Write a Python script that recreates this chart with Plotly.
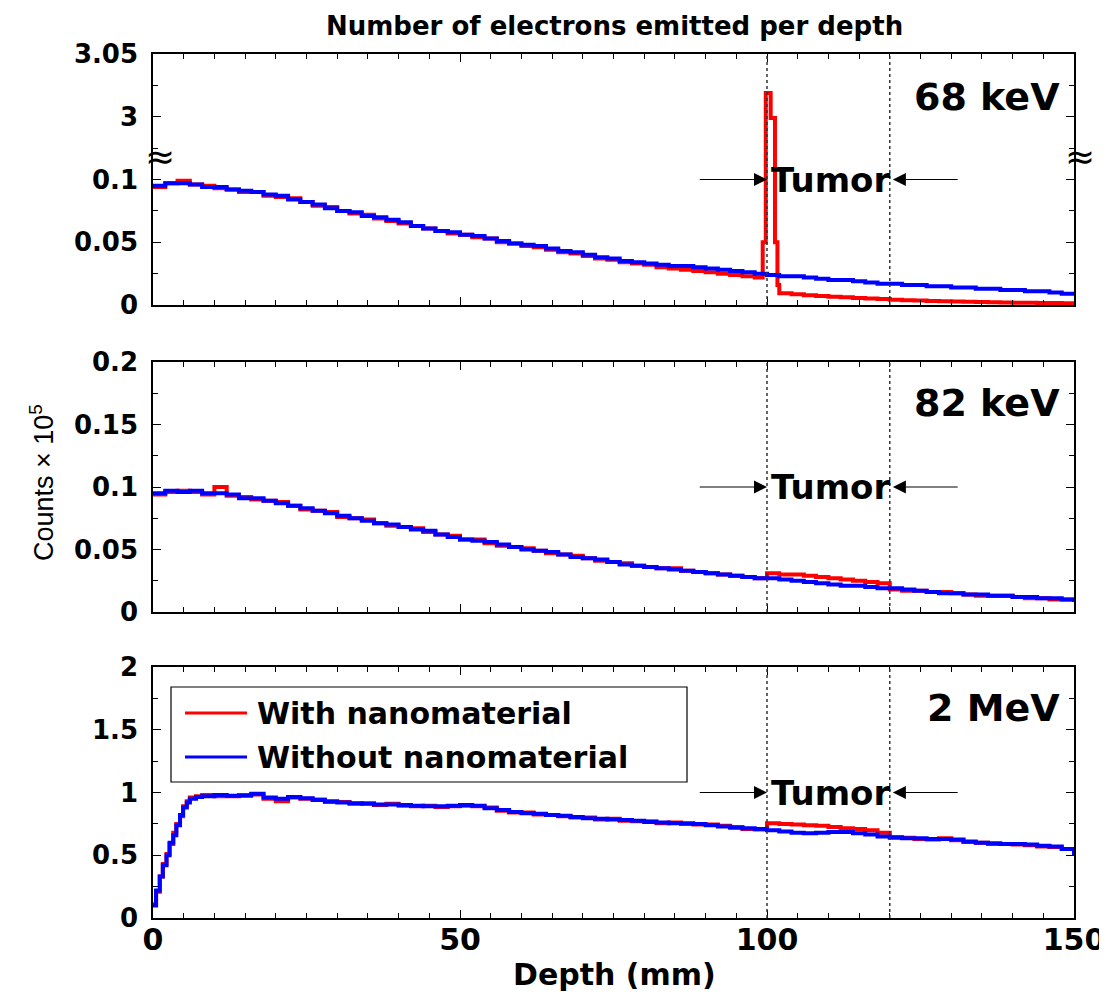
"""Electrons emitted per depth: three stacked step plots (68 keV, 82 keV, 2 MeV)."""

import plotly.graph_objects as go

# the page puts the figure 8 px in from the top-left corner of the window
PAGE_OFFSET = 8
W, H = 1107 - PAGE_OFFSET, 995 - PAGE_OFFSET
FONT = "DejaVu Sans"
RED = "#FF0000"
BLUE = "#0000FF"

# depth bins (mm)
depth = list(range(0, 152, 2))

# 68 keV, counts x 1e5
blue_68 = [
    0.095, 0.097, 0.097, 0.096, 0.094, 0.094, 0.092, 0.091, 0.090, 0.088,
    0.087, 0.084, 0.082, 0.080, 0.077, 0.075, 0.074, 0.071, 0.070, 0.068,
    0.066, 0.063, 0.061, 0.059, 0.058, 0.056, 0.055, 0.053, 0.051, 0.049,
    0.048, 0.047, 0.045, 0.043, 0.042, 0.040, 0.038, 0.037, 0.035, 0.034,
    0.033, 0.032, 0.031, 0.031, 0.030, 0.029, 0.028, 0.027, 0.026, 0.025,
    0.024, 0.023, 0.023, 0.022, 0.021, 0.020, 0.020, 0.019, 0.018, 0.017,
    0.017, 0.016, 0.016, 0.015, 0.015, 0.014, 0.014, 0.013, 0.013, 0.012,
    0.012, 0.011, 0.011, 0.010, 0.009, 0.008,
]
red_68 = [
    0.094, 0.097, 0.099, 0.096, 0.095, 0.093, 0.092, 0.090, 0.090, 0.087,
    0.086, 0.085, 0.082, 0.079, 0.078, 0.075, 0.073, 0.072, 0.069, 0.067,
    0.065, 0.063, 0.061, 0.059, 0.057, 0.056, 0.054, 0.053, 0.050, 0.049,
    0.047, 0.046, 0.044, 0.042, 0.041, 0.039, 0.037, 0.036, 0.034, 0.033,
    0.032, 0.030, 0.029, 0.028, 0.027, 0.026, 0.025, 0.024, 0.023, 0.022,
    0.022, 0.0093, 0.0085, 0.0078, 0.0072, 0.0066, 0.0061, 0.0056, 0.0051, 0.0047,
    0.0042, 0.0038, 0.0035, 0.0032, 0.0029, 0.0027, 0.0025, 0.0023, 0.0021, 0.0020,
    0.0018, 0.0017, 0.0016, 0.0015, 0.0014, 0.0013,
]
# fine bins of the nanomaterial peak at the tumour entrance
spike_depth = [99.3, 99.8, 100.6, 101.3, 101.7]
spike_counts = [0.05, 3.019, 2.999, 0.05, 0.016]

# 82 keV
blue_82 = [
    0.095, 0.097, 0.096, 0.097, 0.095, 0.095, 0.094, 0.091, 0.091, 0.089,
    0.087, 0.085, 0.083, 0.081, 0.079, 0.077, 0.075, 0.073, 0.071, 0.070,
    0.068, 0.066, 0.065, 0.062, 0.060, 0.058, 0.057, 0.056, 0.054, 0.052,
    0.050, 0.049, 0.048, 0.046, 0.044, 0.043, 0.042, 0.040, 0.038, 0.037,
    0.036, 0.035, 0.034, 0.033, 0.032, 0.031, 0.030, 0.029, 0.028, 0.027,
    0.027, 0.026, 0.025, 0.024, 0.023, 0.022, 0.021, 0.021, 0.020, 0.019,
    0.019, 0.018, 0.017, 0.016, 0.015, 0.015, 0.014, 0.014, 0.013, 0.013,
    0.012, 0.012, 0.011, 0.011, 0.010, 0.008,
]
red_82 = [
    0.094, 0.096, 0.097, 0.096, 0.094, 0.100, 0.093, 0.092, 0.090, 0.089,
    0.088, 0.085, 0.082, 0.081, 0.080, 0.076, 0.075, 0.074, 0.071, 0.069,
    0.068, 0.067, 0.064, 0.062, 0.061, 0.058, 0.058, 0.055, 0.053, 0.052,
    0.051, 0.049, 0.047, 0.046, 0.045, 0.043, 0.041, 0.040, 0.039, 0.037,
    0.036, 0.035, 0.035, 0.033, 0.032, 0.031, 0.030, 0.029, 0.028, 0.027,
    0.031, 0.030, 0.030, 0.029, 0.028, 0.027, 0.026, 0.025, 0.024, 0.023,
    0.018, 0.017, 0.017, 0.016, 0.016, 0.015, 0.014, 0.013, 0.013, 0.013,
    0.012, 0.011, 0.011, 0.010, 0.010, 0.008,
]

# 2 MeV: finer bins over the build-up region, then the 2 mm grid
depth_2mev = [0, 0.5, 1.1, 1.6, 2.2, 2.7, 3.3, 3.8, 4.4, 4.9, 5.5, 6.0, 7.0] + list(range(8, 152, 2))
blue_2m = [
    0.10, 0.22, 0.33, 0.42, 0.50, 0.60, 0.66, 0.74, 0.82, 0.88, 0.92, 0.95, 0.965,
    0.97, 0.98, 0.975, 0.975, 0.99, 0.96,
    0.95, 0.965, 0.955, 0.94, 0.93, 0.92, 0.915, 0.91, 0.905, 0.905,
    0.90, 0.895, 0.89, 0.89, 0.895, 0.90, 0.895, 0.875, 0.86, 0.845,
    0.835, 0.83, 0.82, 0.815, 0.805, 0.795, 0.79, 0.785, 0.78, 0.775,
    0.765, 0.76, 0.755, 0.755, 0.75, 0.74, 0.73, 0.72, 0.715, 0.71,
    0.70, 0.69, 0.68, 0.675, 0.68, 0.685, 0.685, 0.675, 0.665, 0.65,
    0.64, 0.635, 0.635, 0.63, 0.63, 0.625, 0.61, 0.60, 0.595, 0.59,
    0.59, 0.585, 0.575, 0.57, 0.55, 0.50,
]
red_2m = [
    0.11, 0.21, 0.33, 0.43, 0.51, 0.59, 0.68, 0.75, 0.81, 0.89, 0.93, 0.96, 0.97,
    0.98, 0.97, 0.97, 0.98, 0.985, 0.95,
    0.93, 0.96, 0.95, 0.945, 0.925, 0.925, 0.91, 0.915, 0.90, 0.91,
    0.895, 0.89, 0.895, 0.885, 0.89, 0.895, 0.89, 0.88, 0.855, 0.84,
    0.84, 0.825, 0.82, 0.81, 0.80, 0.80, 0.785, 0.79, 0.775, 0.77,
    0.77, 0.755, 0.76, 0.75, 0.745, 0.745, 0.735, 0.725, 0.71, 0.705,
    0.755, 0.75, 0.745, 0.74, 0.735, 0.725, 0.715, 0.71, 0.70, 0.68,
    0.645, 0.64, 0.63, 0.625, 0.635, 0.62, 0.605, 0.60, 0.59, 0.59,
    0.585, 0.58, 0.57, 0.565, 0.55, 0.50,
]

tumor_start, tumor_end = 100, 120
panel_labels = ["68 keV", "82 keV", "2 MeV"]

# top panel has a broken axis: values above the break are shifted down by 2.85
BREAK_SHIFT = 2.85
top_tickvals = [0, 0.05, 0.1, 0.15, 0.2]
top_ticktext = ["0", "0.05", "0.1", "3", "3.05"]


def _broken(v):
    return v if v <= 0.1 else v - BREAK_SHIFT


def px(x):
    """Window pixel column -> paper fraction."""
    return (x - PAGE_OFFSET) / W


def py(y):
    """Window pixel row -> paper fraction."""
    return 1 - (y - PAGE_OFFSET) / H


x_dom = [px(153), px(1074)]
y_doms = [[py(305), py(54)], [py(612), py(362)], [py(918), py(667)]]

fig = go.Figure()

red68_x = [d for d in depth if d < 100] + spike_depth + [d for d in depth if d > 100]
red68_y = (
    [v for d, v in zip(depth, red_68) if d < 100]
    + spike_counts
    + [v for d, v in zip(depth, red_68) if d > 100]
)

series = [
    (red68_x, [_broken(v) for v in red68_y], depth, blue_68),
    (depth, red_82, depth, blue_82),
    (depth_2mev, red_2m, depth_2mev, blue_2m),
]

for i, (rx, ry, bx, by) in enumerate(series, start=1):
    xa = "x" if i == 1 else f"x{i}"
    ya = "y" if i == 1 else f"y{i}"
    fig.add_trace(go.Scatter(
        x=rx, y=ry, mode="lines", line={"color": RED, "width": 4, "shape": "hv"},
        xaxis=xa, yaxis=ya, showlegend=False,
    ))
    fig.add_trace(go.Scatter(
        x=bx, y=by, mode="lines", line={"color": BLUE, "width": 4, "shape": "hv"},
        xaxis=xa, yaxis=ya, showlegend=False,
    ))

axis_common = {
    "showline": True, "linecolor": "black", "linewidth": 1.5, "mirror": "ticks",
    "ticks": "inside", "ticklen": 8, "tickwidth": 1.2, "tickcolor": "black",
    "showgrid": False, "zeroline": False, "automargin": False,
}
minor_common = {"ticks": "inside", "ticklen": 5, "tickwidth": 1, "tickcolor": "black",
                "showgrid": False}
x_tick_font = {"family": FONT, "size": 30, "color": "black", "weight": "bold"}
y_tick_font = {"family": FONT, "size": 26, "color": "black", "weight": "bold"}

layout = {}
for i in range(1, 4):
    xk = "xaxis" if i == 1 else f"xaxis{i}"
    yk = "yaxis" if i == 1 else f"yaxis{i}"
    ya = "y" if i == 1 else f"y{i}"
    xa = "x" if i == 1 else f"x{i}"
    layout[xk] = dict(
        axis_common, domain=x_dom, anchor=ya, range=[0, 150], dtick=50,
        minor=dict(minor_common, dtick=5), showticklabels=(i == 3),
        tickfont=x_tick_font, ticklabelstandoff=-6,
    )
    if i == 1:
        yax = dict(tickmode="array", tickvals=top_tickvals, ticktext=top_ticktext,
                   range=[0, 0.2], minor=dict(minor_common, dtick=0.025))
    elif i == 2:
        yax = dict(range=[0, 0.2], dtick=0.05, minor=dict(minor_common, dtick=0.025))
    else:
        yax = dict(range=[0, 2], dtick=0.5, minor=dict(minor_common, dtick=0.25))
    layout[yk] = dict(axis_common, domain=y_doms[i - 1], anchor=xa, tickfont=y_tick_font,
                      ticklabelstandoff=8, **yax)

fig.update_layout(
    width=W, height=H, margin={"l": 0, "r": 0, "t": 0, "b": 0},
    paper_bgcolor="white", plot_bgcolor="white", showlegend=False,
    **layout,
)

shapes = []
annotations = []
tumor_y = [0.1, 0.1, 1.0]
label_y = [97, 403, 708]
for i in range(1, 4):
    xa = "x" if i == 1 else f"x{i}"
    ya = "y" if i == 1 else f"y{i}"
    for xv in (tumor_start, tumor_end):
        shapes.append(dict(type="line", xref=xa, yref=f"{ya} domain", x0=xv, x1=xv,
                           y0=0, y1=1, line={"color": "#333333", "width": 1.5, "dash": "dot"}))
    ty = tumor_y[i - 1]
    annotations.append(dict(x=110.3, y=ty, xref=xa, yref=ya, text="Tumor", showarrow=False,
                            xanchor="center", yanchor="middle",
                            font={"family": FONT, "size": 34, "color": "black", "weight": "bold"}))
    annotations.append(dict(x=tumor_start, y=ty, ax=88.8, ay=ty, xref=xa, yref=ya,
                            axref=xa, ayref=ya, text="", showarrow=True, arrowhead=2,
                            arrowsize=2.6, arrowwidth=1, arrowcolor="black"))
    annotations.append(dict(x=120.5, y=ty, ax=131.3, ay=ty, xref=xa, yref=ya,
                            axref=xa, ayref=ya, text="", showarrow=True, arrowhead=2,
                            arrowsize=2.6, arrowwidth=1, arrowcolor="black"))
    annotations.append(dict(x=px(1062), y=py(label_y[i - 1]), xref="paper", yref="paper",
                            xanchor="right", yanchor="middle", text=panel_labels[i - 1],
                            showarrow=False,
                            font={"family": FONT, "size": 38, "color": "black", "weight": "bold"}))

# axis break marks on the top panel
for bx in (160, 1080):
    annotations.append(dict(x=px(bx), y=py(156), xref="paper", yref="paper", text="≈",
                            xanchor="center", yanchor="middle", showarrow=False,
                            font={"family": FONT, "size": 36, "color": "black"}))

# title and axis labels
annotations.append(dict(x=px(614), y=py(26), xref="paper", yref="paper",
                        xanchor="center", yanchor="middle",
                        text="Number of electrons emitted per depth", showarrow=False,
                        font={"family": FONT, "size": 26, "color": "black", "weight": "bold"}))
annotations.append(dict(x=px(614), y=py(974), xref="paper", yref="paper", text="Depth (mm)",
                        xanchor="center", yanchor="middle", showarrow=False,
                        font={"family": FONT, "size": 30, "color": "black", "weight": "bold"}))
annotations.append(dict(x=px(42), y=py(483), xref="paper", yref="paper",
                        xanchor="center", yanchor="middle",
                        text="Counts × 10<sup>5</sup>", textangle=-90, showarrow=False,
                        font={"family": "Liberation Sans", "size": 27, "color": "black"}))

# legend box drawn by hand so the line samples match the original length
shapes.append(dict(type="rect", xref="paper", yref="paper", x0=px(171), x1=px(687),
                   y0=py(782), y1=py(687), line={"color": "black", "width": 1.2},
                   fillcolor="white", layer="above"))
for name, color, ly in (("With nanomaterial", RED, 713), ("Without nanomaterial", BLUE, 757)):
    shapes.append(dict(type="line", xref="paper", yref="paper", x0=px(185), x1=px(247),
                       y0=py(ly), y1=py(ly), line={"color": color, "width": 3},
                       layer="above"))
    annotations.append(dict(x=px(255), y=py(ly), xref="paper", yref="paper", xanchor="left",
                            yanchor="middle", text=name, showarrow=False,
                            font={"family": FONT, "size": 30, "color": "black",
                                  "weight": "bold"}))

fig.update_layout(shapes=shapes, annotations=annotations)
fig.write_html("out.html")
